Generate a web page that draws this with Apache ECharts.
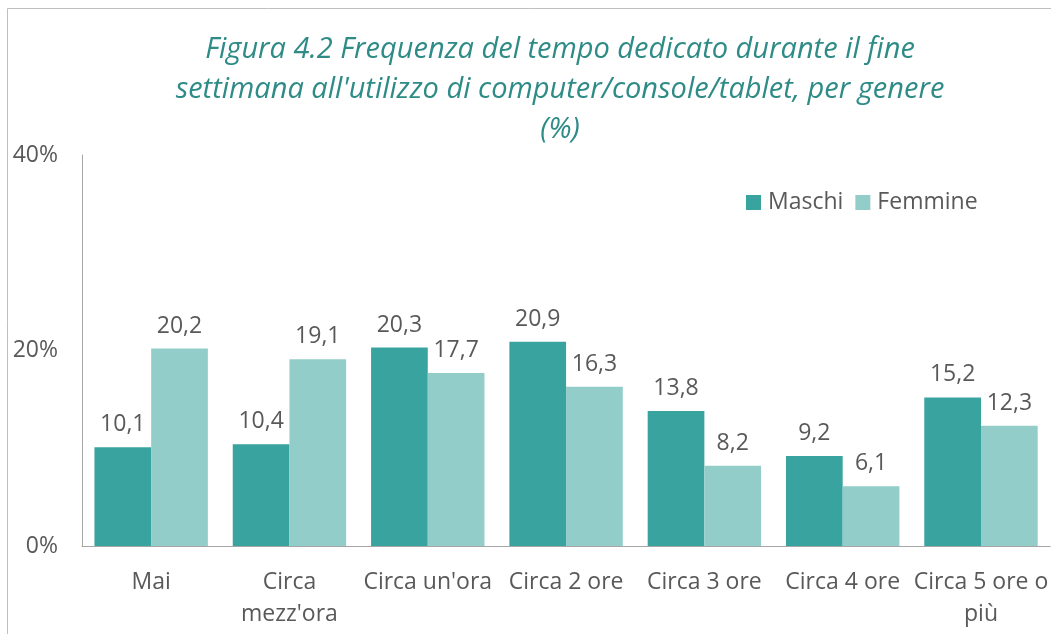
<!DOCTYPE html>
<html>
<head>
<meta charset="utf-8">
<script src="https://cdn.jsdelivr.net/npm/echarts@6/dist/echarts.min.js"></script>
<style>
  html, body { margin: 0; padding: 0; background: #fff; }
  #chart { width: 1051px; height: 634px; }
</style>
</head>
<body>
<div id="chart"></div>
<script>
var categories = ["Mai", "Circa\nmezz'ora", "Circa un'ora", "Circa 2 ore", "Circa 3 ore", "Circa 4 ore", "Circa 5 ore o\npiù"];
var maschi = [10.1, 10.4, 20.3, 20.9, 13.8, 9.2, 15.2];
var femmine = [20.2, 19.1, 17.7, 16.3, 8.2, 6.1, 12.3];
var yTicks = [0, 20, 40];

var font = "'Open Sans', sans-serif";
var myChart = echarts.init(document.getElementById("chart"));
myChart.setOption({
  animation: false,
  textStyle: { fontFamily: font },
  title: {
    text: "Figura 4.2 Frequenza del tempo dedicato durante il fine\nsettimana all'utilizzo di computer/console/tablet, per genere\n(%)",
    left: 555,
    top: 25,
    textAlign: "center",
    textStyle: {
      color: "#2E8B86",
      fontStyle: "italic",
      fontWeight: "normal",
      fontSize: 29,
      lineHeight: 40,
      fontFamily: font
    }
  },
  graphic: [{
    type: "polyline",
    shape: { points: [[7.5, 640], [7.5, 8.5], [1060, 8.5]] },
    style: { stroke: "#BFBFBF", lineWidth: 1, fill: null },
    silent: true
  }],
  legend: {
    data: ["Maschi", "Femmine"],
    left: 741,
    top: 186,
    itemWidth: 15,
    itemHeight: 15,
    itemGap: 12,
    icon: "rect",
    textStyle: { color: "#595959", fontSize: 23, fontFamily: font, padding: [0, 0, 0, 2] }
  },
  grid: { left: 82, right: -3, top: 155, bottom: 88, containLabel: false },
  xAxis: {
    type: "category",
    data: categories,
    axisLine: { lineStyle: { color: "#A6A6A6" } },
    axisTick: { show: false },
    axisLabel: { color: "#595959", fontSize: 23, lineHeight: 32, margin: 20, interval: 0, fontFamily: font }
  },
  yAxis: {
    type: "value",
    min: yTicks[0],
    max: yTicks[yTicks.length - 1],
    interval: yTicks[1] - yTicks[0],
    splitLine: { show: false },
    axisLine: { show: true, lineStyle: { color: "#A6A6A6" } },
    axisTick: { show: false },
    axisLabel: { color: "#595959", fontSize: 23, margin: 24, fontFamily: font, formatter: "{value}%" }
  },
  series: [
    {
      name: "Maschi",
      type: "bar",
      data: maschi,
      barGap: "0%",
      barCategoryGap: "18%",
      itemStyle: { color: "#39A39F" },
      label: {
        show: true, position: "top", distance: 11, color: "#595959", fontSize: 23, fontFamily: font,
        formatter: function (p) { return String(p.value).replace(".", ","); }
      }
    },
    {
      name: "Femmine",
      type: "bar",
      data: femmine,
      itemStyle: { color: "#92CDCA" },
      label: {
        show: true, position: "top", distance: 11, color: "#595959", fontSize: 23, fontFamily: font,
        formatter: function (p) { return String(p.value).replace(".", ","); }
      }
    }
  ]
});
</script>
</body>
</html>
